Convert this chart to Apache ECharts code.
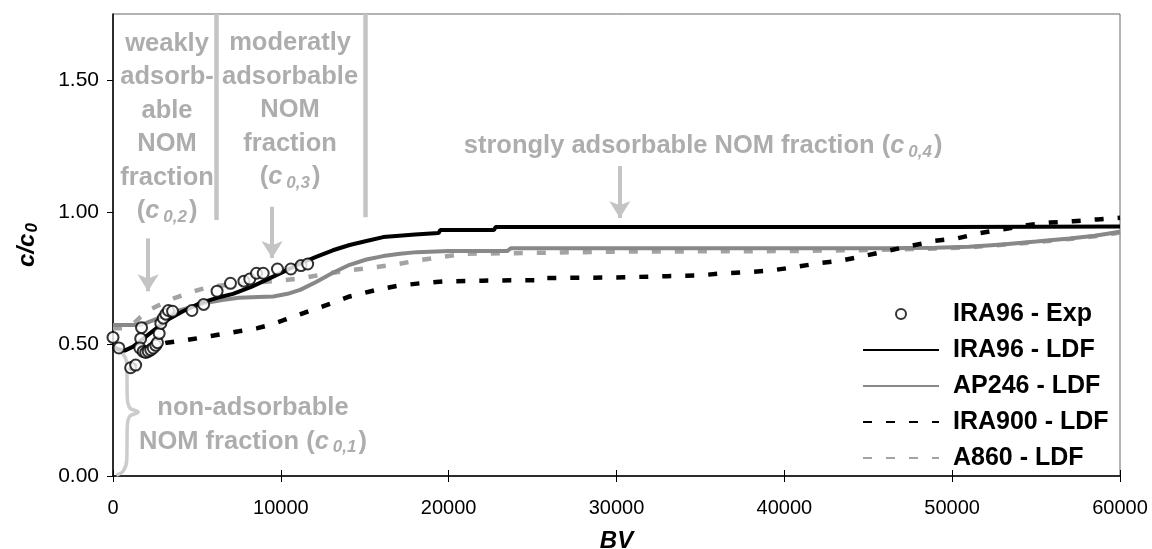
<!DOCTYPE html>
<html><head><meta charset="utf-8">
<script src="https://cdn.jsdelivr.net/npm/echarts@6/dist/echarts.min.js"></script>
<style>html,body{margin:0;padding:0;background:#fff}#c{width:1152px;height:549px}</style>
</head><body><div id="c"></div>
<script>
// ---------- data ----------
const xTickValues = [0, 10000, 20000, 30000, 40000, 50000, 60000];
const yTickValues = [0, 0.5, 1.0, 1.5];
const seriesNames = ['IRA96 - Exp', 'IRA96 - LDF', 'AP246 - LDF', 'IRA900 - LDF', 'A860 - LDF'];

const ira96Exp = [[0,0.525],[350,0.485],[1050,0.41],[1350,0.42],[1700,0.562],[1650,0.52],[1600,0.485],
  [1800,0.472],[1950,0.468],[2100,0.472],[2250,0.478],[2400,0.485],[2550,0.495],[2650,0.505],[2750,0.54],
  [2850,0.578],[3000,0.598],[3150,0.613],[3300,0.627],[3550,0.624],[4700,0.627],[5400,0.65],[6200,0.70],
  [7000,0.73],[7800,0.738],[8150,0.746],[8550,0.768],[8950,0.768],[9800,0.784],[10600,0.784],[11200,0.797],[11600,0.803]];

const ira96Ldf = [[0,0.49],[300,0.48],[700,0.475],[1200,0.49],[1600,0.51],[2200,0.54],[3200,0.59],[4200,0.625],
  [5200,0.655],[6200,0.675],[7150,0.69],[8200,0.715],[9200,0.745],[10200,0.775],[11150,0.805],[12100,0.83],
  [13100,0.855],[14100,0.875],[15100,0.89],[16100,0.905],[18000,0.915],[19400,0.92],[19500,0.932],[22700,0.932],
  [22800,0.943],[30000,0.943],[40000,0.943],[50000,0.943],[60000,0.945]];

const ap246Ldf = [[0,0.572],[1600,0.572],[2000,0.58],[2600,0.595],[3200,0.61],[4000,0.628],[4700,0.64],[5500,0.655],
  [6500,0.667],[7500,0.675],[8650,0.678],[9550,0.68],[10400,0.69],[11150,0.705],[12100,0.735],[13100,0.77],
  [14100,0.80],[15100,0.82],[16100,0.833],[17100,0.842],[18100,0.848],[20000,0.852],[23500,0.852],[23700,0.863],
  [46000,0.863],[49000,0.865],[51000,0.868],[53000,0.877],[55000,0.888],[57000,0.9],[58500,0.91],[60000,0.925]];

const ira900Ldf = [[1000,0.40],[1500,0.44],[2000,0.47],[2600,0.495],[3200,0.505],[4400,0.515],[6000,0.532],
  [7500,0.548],[8600,0.56],[9500,0.575],[10150,0.59],[11350,0.617],[12750,0.648],[14100,0.68],[15700,0.705],
  [16900,0.72],[18300,0.73],[19650,0.737],[22000,0.74],[25400,0.742],[25500,0.75],[30000,0.752],[33000,0.757],
  [35000,0.76],[36350,0.768],[37800,0.772],[39150,0.778],[40500,0.79],[41950,0.805],[43300,0.815],[44700,0.833],
  [46100,0.852],[47400,0.87],[48900,0.89],[50300,0.90],[51650,0.92],[53050,0.935],[54450,0.95],[55850,0.96],
  [57200,0.965],[58650,0.972],[60000,0.978]];

const a860Ldf = [[0,0.56],[800,0.56],[1200,0.575],[1600,0.60],[2200,0.63],[3000,0.655],[3700,0.675],[4400,0.69],
  [5100,0.705],[5800,0.717],[7000,0.725],[8500,0.733],[10000,0.74],[11350,0.75],[12750,0.767],[14100,0.779],
  [15500,0.79],[16900,0.802],[18300,0.818],[19650,0.83],[21000,0.842],[25000,0.845],[30000,0.85],[40000,0.852],
  [45000,0.856],[48000,0.86],[51000,0.866],[53000,0.876],[55000,0.886],[57000,0.898],[58500,0.908],[60000,0.922]];

// annotation anchors (data coordinates) and texts
const annotPos = [[3220,1.32],[10550,1.386],[35160,1.25],[8340,0.193]];
const annotText = [
  'weakly\nadsorb-\nable\nNOM\nfraction\n({ci|c}{s|0,2})',
  'moderatly\nadsorbable\nNOM\nfraction\n({ci|c}{s|0,3})',
  'strongly adsorbable NOM fraction ({ci|c}{s|0,4})',
  'non-adsorbable\nNOM fraction ({ci|c}{s|0,1})'
];
const arrowLines = [[[2090,0.90],[2090,0.70]],[[9480,1.02],[9480,0.826]],[[30200,1.174],[30200,0.977]]];
const sepLines = [[[6140,1.75],[6140,0.97]],[[15020,1.75],[15020,0.98]]];
const bracePts = [[200,0.475],[600,0.462],[820,0.425],[850,0.3],[1000,0.258],[1500,0.242],[1000,0.226],[850,0.185],
  [820,0.06],[600,0.018],[200,0.004]];

// ---------- chart ----------
const FF = '"Liberation Sans", Arial, sans-serif';
const annGray = '#999999';
const chart = echarts.init(document.getElementById('c'), null, {renderer:'canvas'});

const richAnn = {
  ci: {fontSize:25.5, fontWeight:'bold', fontStyle:'italic', color:annGray, fontFamily:FF, align:'center', padding:[0,4,0,0]},
  s: {fontSize:17, fontWeight:'bold', fontStyle:'italic', color:annGray, fontFamily:FF, align:'center', lineHeight:17, padding:[12,2,0,0]}
};

const option = {
  backgroundColor:'#fff',
  animation:false,
  grid:{left:113, right:32, top:14, bottom:73, show:true, borderColor:'#666', borderWidth:1,
    containLabel:false, outerBoundsMode:'none'},
  legend:{
    data: seriesNames.map((n,i)=> i===0 ? {name:n} : {name:n, itemStyle:{opacity:0}}),
    orient:'vertical', left:857, top:296, itemWidth:76, itemHeight:10, itemGap:10,
    textStyle:{fontSize:25, fontWeight:'bold', color:'#000', fontFamily:FF, lineHeight:26, padding:[0,0,0,9]}
  },
  xAxis:[{
    type:'value', min:0, max:60000, interval:10000,
    name:'BV', nameLocation:'middle', nameGap:53,
    nameTextStyle:{fontSize:24, fontWeight:'bold', fontStyle:'italic', color:'#000', fontFamily:FF},
    axisLine:{show:true, lineStyle:{color:'#000', width:1.5}},
    axisTick:{show:true, inside:false, length:6, lineStyle:{color:'#000'}},
    axisLabel:{fontSize:20, color:'#000', fontFamily:FF, margin:22, formatter:v => String(v)},
    splitLine:{show:false}
  },{
    type:'value', min:0, max:60000, interval:10000, position:'bottom', offset:0,
    axisLine:{show:false}, axisTick:{show:true, inside:true, length:6, lineStyle:{color:'#000'}},
    axisLabel:{show:false}, splitLine:{show:false}
  }],
  yAxis:{
    type:'value', min:0, max:1.75, interval:0.5,
    name:'{a|c/c}{b|0}', nameLocation:'middle', nameGap:72, nameRotate:90,
    nameTextStyle:{rich:{
      a:{fontSize:24, fontWeight:'bold', fontStyle:'italic', color:'#000', fontFamily:FF},
      b:{fontSize:17, fontWeight:'bold', fontStyle:'italic', color:'#000', fontFamily:FF, padding:[10,0,0,1]}
    }},
    axisLine:{show:true, lineStyle:{color:'#000', width:1.5}},
    axisTick:{show:true, inside:false, length:6, lineStyle:{color:'#000'}},
    axisLabel:{fontSize:21, color:'#000', fontFamily:FF, margin:14, showMaxLabel:false,
      formatter:v => yTickValues.includes(v) ? v.toFixed(2) : ''},
    splitLine:{show:false}
  },
  series:[
    {name:'A860 - LDF', type:'line', data:a860Ldf, symbol:'none', showSymbol:false, z:3,
      lineStyle:{color:'#a3a3a3', width:4.5, type:[9,14]}, itemStyle:{color:'#a3a3a3'}},
    {name:'AP246 - LDF', type:'line', data:ap246Ldf, symbol:'none', showSymbol:false, z:3,
      lineStyle:{color:'#888', width:4}, itemStyle:{color:'#888'}},
    {name:'IRA900 - LDF', type:'line', data:ira900Ldf, symbol:'none', showSymbol:false, z:4,
      lineStyle:{color:'#000', width:4.5, type:[9,14]}, itemStyle:{color:'#000'}},
    {name:'IRA96 - LDF', type:'line', data:ira96Ldf, symbol:'none', showSymbol:false, z:4,
      lineStyle:{color:'#000', width:4}, itemStyle:{color:'#000'}},
    {name:'IRA96 - Exp', type:'scatter', data:ira96Exp, symbol:'circle', symbolSize:11, z:6,
      itemStyle:{color:'#fff', borderColor:'#000', borderWidth:2}},
    {name:'brace', type:'line', data:bracePts, smooth:0.4, symbol:'none', showSymbol:false, z:2, silent:true,
      lineStyle:{color:'#cccccc', width:3.5}},
    {name:'annot', type:'scatter', symbolSize:1, itemStyle:{color:'rgba(255,255,255,0)'}, z:5, silent:true,
      data: annotPos.map((p,i)=>({value:p, label:{show:true, position:'inside', formatter:annotText[i],
        fontSize:25.5, fontWeight:'bold', color:annGray, fontFamily:FF, align:'center', verticalAlign:'middle',
        lineHeight:33.5, rich:richAnn}})),
      markLine:{silent:true, animation:false, label:{show:false},
        data: arrowLines.map(l=>[{coord:l[0], symbol:'none'},{coord:l[1], symbol:'arrow', symbolSize:[16,17]}])
          .concat(sepLines.map(l=>[{coord:l[0], symbol:'none', lineStyle:{width:4.5}},{coord:l[1], symbol:'none'}])),
        lineStyle:{color:'#c4c4c4', width:4, type:'solid'}, emphasis:{disabled:true}}
    }
  ]
};
chart.setOption(option);
</script></body></html>
